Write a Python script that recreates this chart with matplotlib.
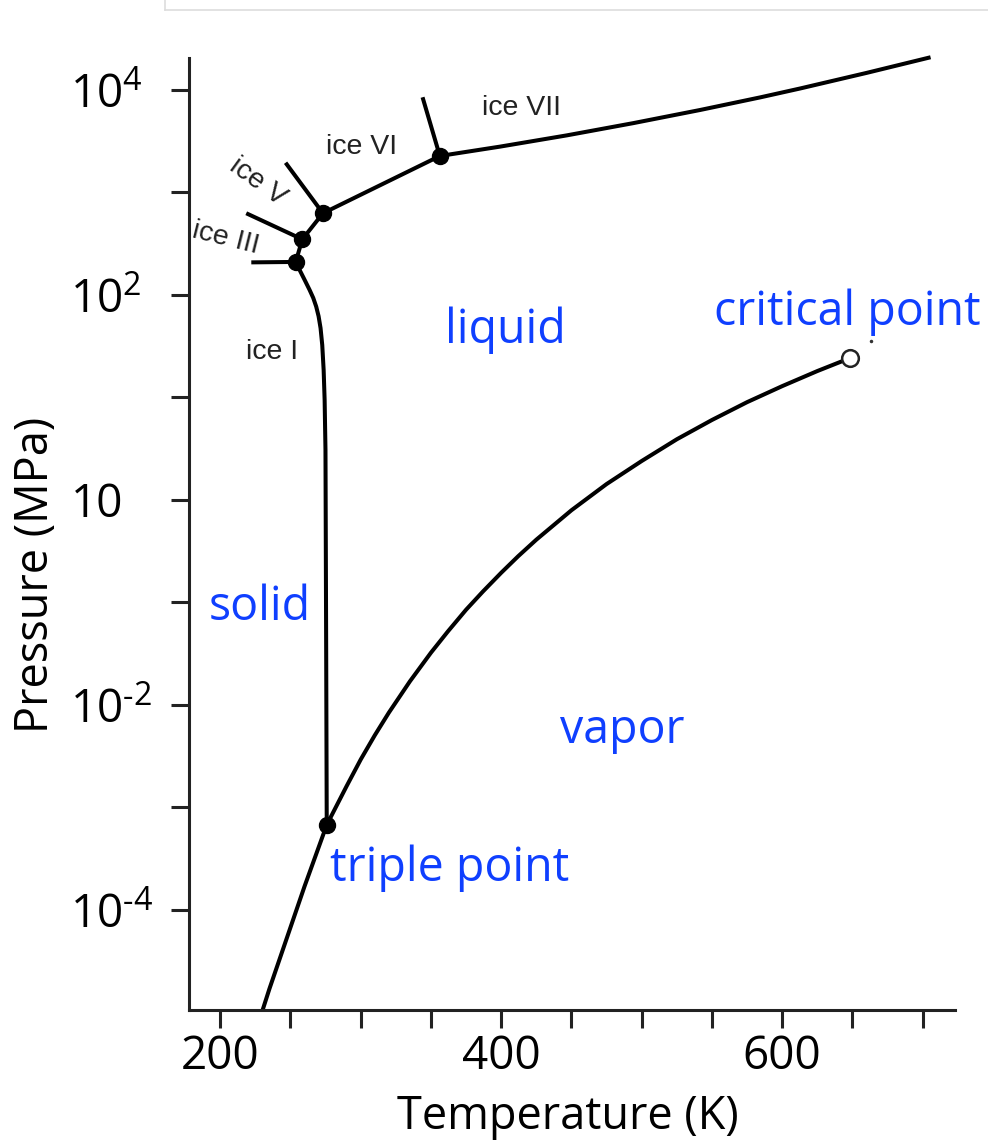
import matplotlib.pyplot as plt
from matplotlib.lines import Line2D

# vapor pressure curve: sublimation -> triple point -> critical point
vapor_T = [230.1, 235, 245, 260, 275.8, 290, 300, 310, 320, 335, 350, 362, 375, 387, 400,
           412, 425, 450, 475, 500, 525, 550, 575, 600, 625, 648.5]
vapor_P = [1.05e-5, 1.7e-5, 4.27e-5, 1.70e-4, 6.76e-4, 1.62e-3, 2.94e-3, 5.06e-3, 8.41e-3, 0.017,
           0.0324, 0.0521, 0.085, 0.128, 0.195, 0.282, 0.41, 0.794, 1.43, 2.40, 3.91, 6.03,
           9.0, 12.9, 18.1, 24.3]

# ice I / liquid melting curve
melt_T = [253.7, 256.9, 260.1, 263.6, 266.2, 268.3, 270.0, 271.4, 272.6, 273.6, 274.3, 274.9, 275.4, 275.8]
melt_P = [210, 171, 140, 112, 93.5, 77.0, 62.0, 47.5, 32.5, 18.5, 9.46, 3.08, 0.0344, 6.75e-4]

# high pressure ice / liquid boundary
hp_T = [253.7, 258.4, 273.1, 356.3, 399.1, 446.6, 493.9, 541.6, 584.4, 612.9, 660.2, 705.6]
hp_P = [210, 349, 627, 2270, 2800, 3605, 4745, 6380, 8470, 10350, 14690, 20850]

# short boundaries between ice phases (start T, start P, end T, end P)
stub_T0 = [222.1, 218.5, 246.5, 344.0]
stub_P0 = [208, 627, 1950, 8490]
stub_T1 = [253.7, 258.4, 273.1, 356.3]
stub_P1 = [210, 349, 627, 2270]

# triple points (filled) and critical point (open)
dot_T = [253.7, 258.4, 273.1, 356.3, 275.8]
dot_P = [210, 349, 627, 2270, 6.75e-4]
crit_T, crit_P = 648.5, 24.3

x_ticks = [200, 250, 300, 350, 400, 450, 500, 550, 600, 650, 700]
x_ticklabels = ['200', '', '', '', '400', '', '', '', '600', '', '']
y_ticks = [1e-4, 1e-3, 1e-2, 1e-1, 1, 10, 100, 1000, 1e4]
y_ticklabels = ['$\\mathregular{10^{\u20104}}$', '', '$\\mathregular{10^{\u20102}}$', '', '10', '',
                r'$\mathregular{10^{2}}$', '', r'$\mathregular{10^{4}}$']

phase_labels = ['liquid', 'critical point', 'solid', 'vapor', 'triple point']
phase_T = [402.6, 646.5, 228.1, 486.0, 363.4]
phase_P = [45.7, 68.2, 0.0903, 0.0057, 2.57e-4]

ice_labels = ['ice VII', 'ice VI', 'ice V', 'ice III', 'ice I']
ice_T = [414.1, 300.7, 226.6, 203.8, 236.6]
ice_P = [6670, 2780, 1260, 360, 27.8]
ice_rot = [0, 0, -36, -14, 0]

plt.rcParams['font.family'] = ['Open Sans', 'DejaVu Sans']
plt.rcParams['mathtext.fontset'] = 'custom'
plt.rcParams['mathtext.rm'] = 'Open Sans'

W, H = 988, 1144
fig = plt.figure(figsize=(W / 100, H / 100), dpi=100)
ax = fig.add_axes([188.5 / W, 1 - 1010 / H, (955 - 188.5) / W, (1010 - 58.3) / H])

lw = 2.9
ax.plot(vapor_T, vapor_P, color='black', lw=lw, solid_capstyle='butt')
ax.plot(melt_T, melt_P, color='black', lw=lw)
ax.plot(hp_T, hp_P, color='black', lw=lw, clip_on=False, solid_capstyle='butt')
for t0, p0, t1, p1 in zip(stub_T0, stub_P0, stub_T1, stub_P1):
    ax.plot([t0, t1], [p0, p1], color='black', lw=lw, solid_capstyle='butt')
ax.plot(dot_T, dot_P, 'o', color='black', ms=11.5, zorder=5)
ax.plot([crit_T], [crit_P], 'o', mfc='white', mec='#222222', mew=1.8, ms=12, zorder=5)
ax.plot([663.5], [35.6], 'o', color='#333333', ms=1.5)

ax.set_yscale('log')
ax.set_xlim(177.4, 723)
ax.set_ylim(1.057e-5, 2.037e4)

ax.set_xticks(x_ticks)
ax.set_xticklabels(x_ticklabels)
ax.set_yticks(y_ticks)
ax.set_yticklabels(y_ticklabels)
ax.minorticks_off()
ax.tick_params(axis='both', length=13, width=2.2, labelsize=33, color='#222222')
ax.tick_params(axis='x', pad=4)
ax.tick_params(axis='y', pad=72)
for lbl in ax.get_yticklabels():
    lbl.set_horizontalalignment('left')

for side in ['top', 'right']:
    ax.spines[side].set_visible(False)
for side in ['left', 'bottom']:
    ax.spines[side].set_linewidth(2.2)
    ax.spines[side].set_color('#222222')

for s, t, p in zip(phase_labels, phase_T, phase_P):
    ax.text(t, p, s, color='#0f3fff', fontsize=33.5, ha='center', va='center')

for s, t, p, r in zip(ice_labels, ice_T, ice_P, ice_rot):
    ax.text(t, p, s, color='#222222', fontsize=20.5, ha='center', va='center',
            rotation=r, rotation_mode='anchor', family=['Liberation Sans', 'DejaVu Sans'])

fig.text(36 / W, 1 - 575 / H, 'Pressure (MPa)', rotation=90, fontsize=32.5,
         ha='center', va='center')
fig.text(568 / W, 1 - 1117 / H, 'Temperature (K)', fontsize=32.5, ha='center', va='center')

# faint frame edge at the top of the picture
fig.add_artist(Line2D([165 / W, 1], [1 - 10 / H] * 2, color='#dddddd', lw=1.2,
                      transform=fig.transFigure))
fig.add_artist(Line2D([165 / W, 165 / W], [1 - 10 / H, 1], color='#dddddd', lw=1.2,
                      transform=fig.transFigure))

fig.savefig('out.png', dpi=100)
